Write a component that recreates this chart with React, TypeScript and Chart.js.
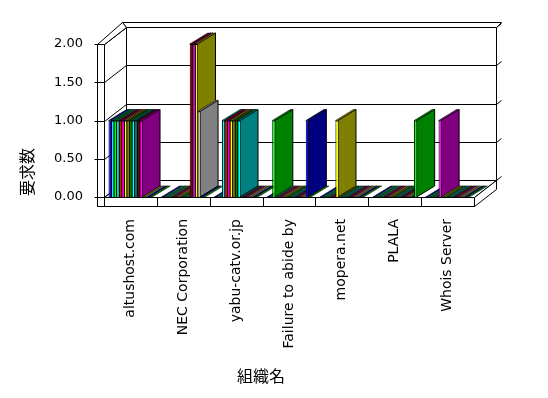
import { useEffect, useRef } from 'react';
import { Chart, registerables } from 'chart.js';

Chart.register(...registerables);

// ---- data ----
const categories = ['altushost.com', 'NEC Corporation', 'yabu-catv.or.jp', 'Failure to abide by', 'mopera.net', 'PLALA', 'Whois Server'];
const yTickValues = [0, 0.5, 1, 1.5, 2];
const yAxisTitle = '要求数';
const xAxisTitle = '組織名';

const series01 = [1, 0, 0, 0, 0, 0, 0];
const series02 = [1, 0, 0, 0, 0, 0, 0];
const series03 = [1, 0, 0, 1, 0, 0, 0];
const series04 = [1, 0, 1, 0, 0, 0, 0];
const series05 = [1, 0, 1, 0, 0, 0, 0];
const series06 = [1, 0, 1, 0, 0, 0, 1];
const series07 = [1, 0, 1, 0, 1, 0, 0];
const series08 = [1, 0, 1, 0, 0, 0, 0];
const series09 = [1, 0, 1, 0, 0, 0, 0];
const series10 = [1, 0, 1, 0, 0, 0, 0];
const series11 = [1, 0, 0, 0, 0, 0, 0];
const series12 = [1, 2, 0, 0, 0, 0, 0];
const series13 = [1, 2, 0, 0, 0, 0, 0];
const series14 = [0, 2, 0, 0, 0, 0, 0];
const series15 = [0, 1.12, 0, 0, 0, 0, 0];
const series16 = [0, 0, 0, 1, 0, 0, 0];
const series17 = [0, 0, 0, 0, 0, 1, 0];

const allSeries = [series01, series02, series03, series04, series05, series06, series07, series08, series09, series10, series11, series12, series13, series14, series15, series16, series17];

// ---- styles ----
const frontColors = ['#0000FF', '#00FFFF', '#00FF00', '#00FFFF', '#FF0000', '#FF00FF', '#FFFF00', '#808000', '#008000', '#00FFFF', '#008080', '#800000', '#FF00FF', '#FFFF00', '#C0C0C0', '#0000FF', '#00FF00'];
const sideColors = ['#000080', '#008080', '#008000', '#008080', '#800000', '#800080', '#808000', '#606000', '#006000', '#008080', '#006060', '#600000', '#800080', '#808000', '#808080', '#000080', '#008000'];

const BAR_D = { x: 18, y: -11 };
const WALL_D = { x: 22, y: -17 };
const WALL_T = 7;
const FLOOR_T = 9;

function poly(ctx: CanvasRenderingContext2D, pts: number[][], fill?: string, stroke = true) {
  ctx.beginPath();
  ctx.moveTo(pts[0][0], pts[0][1]);
  for (let i = 1; i < pts.length; i++) ctx.lineTo(pts[i][0], pts[i][1]);
  ctx.closePath();
  if (fill) {
    ctx.fillStyle = fill;
    ctx.fill();
  }
  if (stroke) ctx.stroke();
}

function line(ctx: CanvasRenderingContext2D, x1: number, y1: number, x2: number, y2: number) {
  ctx.beginPath();
  ctx.moveTo(x1, y1);
  ctx.lineTo(x2, y2);
  ctx.stroke();
}

const frame3d = {
  id: 'frame3d',
  beforeDatasetsDraw(chart: any) {
    const ctx: CanvasRenderingContext2D = chart.ctx;
    const { left: L, right: R, top: T, bottom: B } = chart.chartArea;
    const ys = chart.scales.y;
    const xs = chart.scales.x;
    const Dx = WALL_D.x, Dy = WALL_D.y;
    const OL = L - WALL_T;
    const FB = B + FLOOR_T;
    ctx.save();
    ctx.strokeStyle = '#000';
    ctx.lineWidth = 1;
    ctx.translate(0.5, 0.5);
    // back wall
    poly(ctx, [[L + Dx, T + Dy], [R + Dx, T + Dy], [R + Dx, B + Dy], [L + Dx, B + Dy]], '#fff');
    yTickValues.forEach((v) => {
      const y = Math.round(ys.getPixelForValue(v)) + Dy;
      line(ctx, L + Dx, y, R + Dx, y);
      line(ctx, R + Dx, y, R + Dx + 5, y - 4);
    });
    // back wall top
    poly(ctx, [[OL + Dx + 3, T + Dy - 5], [R + Dx + 5, T + Dy - 5], [R + Dx, T + Dy], [L + Dx, T + Dy]], '#fff');
    // left wall inner face
    poly(ctx, [[L, T], [L + Dx, T + Dy], [L + Dx, B + Dy], [L, B]], '#fff');
    yTickValues.forEach((v) => {
      const y = Math.round(ys.getPixelForValue(v));
      line(ctx, L, y, L + Dx, y + Dy);
    });
    // floor top
    poly(ctx, [[L, B], [R, B], [R + Dx, B + Dy], [L + Dx, B + Dy]], '#fff');
    // floor front
    poly(ctx, [[OL, B], [R, B], [R, FB], [OL, FB]], '#fff');
    const n = categories.length;
    for (let i = 0; i < n - 1; i++) {
      const xb = Math.round((xs.getPixelForTick(i) + xs.getPixelForTick(i + 1)) / 2);
      line(ctx, xb, B, xb, FB);
    }
    // floor right side
    poly(ctx, [[R, B], [R, FB], [R + Dx, FB + Dy], [R + Dx, B + Dy]], '#fff');
    // left wall front
    poly(ctx, [[OL, T], [L, T], [L, FB], [OL, FB]], '#fff');
    yTickValues.forEach((v) => {
      const y = Math.round(ys.getPixelForValue(v));
      line(ctx, OL - 3, y, L, y);
    });
    // left wall top
    poly(ctx, [[OL, T], [L, T], [L + Dx, T + Dy], [OL + Dx + 3, T + Dy - 5]], '#fff');
    ctx.restore();

    // bar sides and tops, drawn left to right
    const bars: any[] = [];
    chart.data.datasets.forEach((ds: any, di: number) => {
      const meta = chart.getDatasetMeta(di);
      meta.data.forEach((el: any) => {
        const p = el.getProps(['x', 'y', 'base', 'width'], true);
        bars.push({ xl: p.x - p.width / 2, xr: p.x + p.width / 2, y: p.y, base: p.base, side: sideColors[di] });
      });
    });
    bars.sort((a, b) => a.xl - b.xl);
    ctx.save();
    ctx.strokeStyle = '#000';
    bars.forEach((b) => {
      const bx = BAR_D.x, by = BAR_D.y;
      const tall = b.base - b.y > 0.5;
      if (tall) {
        ctx.lineWidth = 1;
        poly(ctx, [[b.xr, b.y], [b.xr + bx, b.y + by], [b.xr + bx, b.base + by], [b.xr, b.base]], b.side);
      }
      ctx.lineWidth = 0.5;
      poly(ctx, [[b.xl, b.y], [b.xr, b.y], [b.xr + bx, b.y + by], [b.xl + bx, b.y + by]], b.side);
    });
    ctx.restore();
  },
  afterDraw(chart: any) {
    const ctx: CanvasRenderingContext2D = chart.ctx;
    ctx.save();
    ctx.fillStyle = '#000';
    ctx.font = '16px "Noto Sans CJK JP"';
    ctx.textAlign = 'center';
    ctx.textBaseline = 'middle';
    ctx.fillText(xAxisTitle, 261, 376);
    ctx.translate(27, 172);
    ctx.rotate(-Math.PI / 2);
    ctx.fillText(yAxisTitle, 0, 0);
    ctx.restore();
  },
};

export default function App() {
  const ref = useRef<HTMLCanvasElement | null>(null);
  useEffect(() => {
    if (!ref.current) return;
    const chart = new Chart(ref.current, {
      type: 'bar',
      data: {
        labels: categories,
        datasets: allSeries.map((s, i) => ({
          label: '系列' + (i + 1),
          data: s,
          backgroundColor: frontColors[i],
          borderColor: '#000',
          borderWidth: { left: 1, top: 1, right: 0, bottom: 0 },
          borderSkipped: false,
          categoryPercentage: 0.83,
          barPercentage: 1,
        })),
      },
      options: {
        responsive: false,
        animation: false,
        events: [],
        layout: { padding: { left: 0, right: 74, top: 44, bottom: 0 } },
        plugins: { legend: { display: false }, tooltip: { enabled: false }, title: { display: false } },
        scales: {
          x: {
            grid: { display: false },
            border: { display: false },
            ticks: {
              autoSkip: false,
              minRotation: 90,
              maxRotation: 90,
              padding: 14,
              color: '#000',
              font: { family: '"DejaVu Sans", sans-serif', size: 14 },
            },
            afterFit: (scale: any) => {
              scale.height = 201;
            },
          },
          y: {
            min: 0,
            max: 2,
            grid: { display: false },
            border: { display: false },
            afterBuildTicks: (scale: any) => {
              scale.ticks = yTickValues.map((v) => ({ value: v }));
            },
            ticks: {
              padding: 13,
              color: '#000',
              font: { family: '"DejaVu Sans", sans-serif', size: 13 },
              callback: (v: any) => Number(v).toFixed(2),
            },
            afterFit: (scale: any) => {
              scale.width = 104;
            },
          },
        },
      },
      plugins: [frame3d],
    });
    return () => chart.destroy();
  }, []);
  return (
    <div style={{ position: 'fixed', left: 0, top: 0, width: 548, height: 398, background: '#fff' }}>
      <canvas ref={ref} width={548} height={398} style={{ display: 'block', width: 548, height: 398 }} />
    </div>
  );
}
